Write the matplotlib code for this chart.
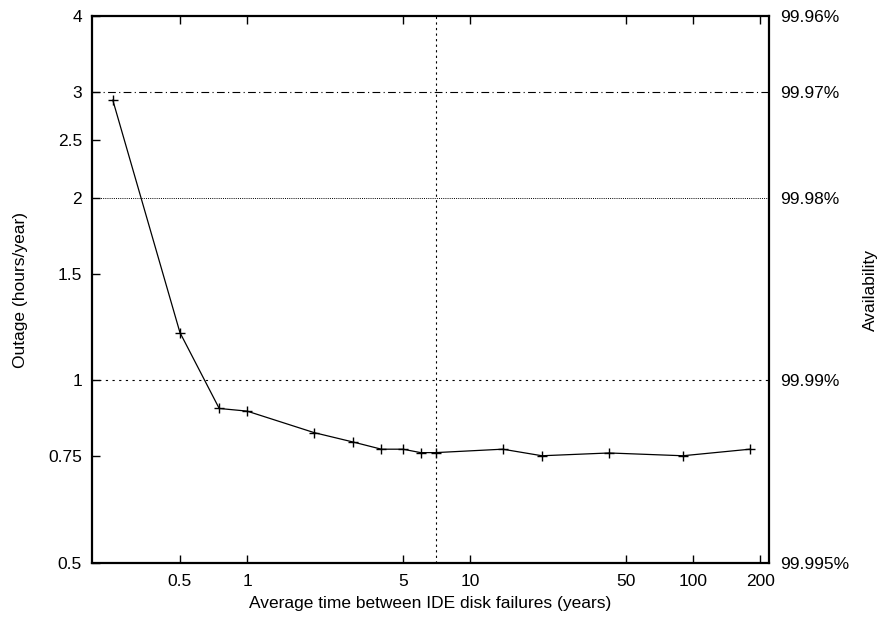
import matplotlib.pyplot as plt
from matplotlib.ticker import FixedLocator, NullLocator, NullFormatter

plt.rcParams['font.family'] = ['Liberation Sans', 'DejaVu Sans']
plt.rcParams['font.size'] = 12.5

# mean time between IDE disk failures (years) vs yearly outage (hours)
mtbf_years = [0.25, 0.5, 0.75, 1, 2, 3, 4, 5, 6, 7, 14, 21, 42, 90, 180]
outage_hours = [2.905, 1.2, 0.899, 0.890, 0.820, 0.791, 0.770, 0.770,
                0.760, 0.760, 0.770, 0.751, 0.759, 0.751, 0.770]

y_ticks = [0.5, 0.75, 1, 1.5, 2, 2.5, 3, 4]
y_tick_labels = ["0.5", "0.75", "1", "1.5", "2", "2.5", "3", "4"]
x_ticks = [0.5, 1, 5, 10, 50, 100, 200]
x_tick_labels = ["0.5", "1", "5", "10", "50", "100", "200"]
avail_ticks = [4, 3, 2, 1, 0.5]
avail_labels = ["99.96%", "99.97%", "99.98%", "99.99%", "99.995%"]
ref_x = 7

fig = plt.figure(figsize=(8.79, 6.18), dpi=100)
ax = fig.add_axes([0.1043, 0.0895, 0.7706, 0.8845])

ax.set_xscale('log')
ax.set_yscale('log')
ax.set_xlim(0.201, 219)
ax.set_ylim(0.5, 4)

# reference lines
ax.axhline(3, color='black', lw=0.8, dashes=(7, 3, 1, 3))
ax.axhline(2, color='black', lw=0.7, dashes=(1, 1.2))
ax.axhline(1, color='black', lw=0.8, dashes=(2, 4))
ax.axvline(ref_x, color='black', lw=0.8, dashes=(2, 3))

ax.plot(mtbf_years, outage_hours, color='black', lw=0.9,
        marker='+', markersize=7, markeredgewidth=1)

ax.xaxis.set_major_locator(FixedLocator(x_ticks))
ax.set_xticklabels(x_tick_labels)
ax.yaxis.set_major_locator(FixedLocator(y_ticks))
ax.set_yticklabels(y_tick_labels)
ax.xaxis.set_minor_locator(NullLocator())
ax.yaxis.set_minor_locator(NullLocator())
ax.xaxis.set_minor_formatter(NullFormatter())
ax.yaxis.set_minor_formatter(NullFormatter())

ax.tick_params(which='major', direction='in', length=6, width=1,
               top=True, right=True, labelsize=12.5)
ax.tick_params(axis='y', pad=7)
ax.tick_params(axis='x', pad=8)
for sp in ax.spines.values():
    sp.set_linewidth(1.6)

ax.set_xlabel("Average time between IDE disk failures (years)", fontsize=12.5, labelpad=5)

# availability scale on the right
ax2 = ax.twinx()
ax2.set_yscale('log')
ax2.set_ylim(ax.get_ylim())
ax2.yaxis.set_major_locator(FixedLocator(avail_ticks))
ax2.set_yticklabels(avail_labels)
ax2.yaxis.set_minor_locator(NullLocator())
ax2.yaxis.set_minor_formatter(NullFormatter())
ax2.tick_params(axis='y', length=0, pad=8, labelsize=12.5)
for sp in ax2.spines.values():
    sp.set_visible(False)

# axis titles placed in figure coordinates
fig.text(20.5 / 879, 1 - 290 / 618, "Outage (hours/year)", rotation=90,
         ha='center', va='center', fontsize=12.5)
fig.text(870 / 879, 1 - 290 / 618, "Availability", rotation=90,
         ha='center', va='center', fontsize=12.5)

fig.savefig("out.png", dpi=100)
